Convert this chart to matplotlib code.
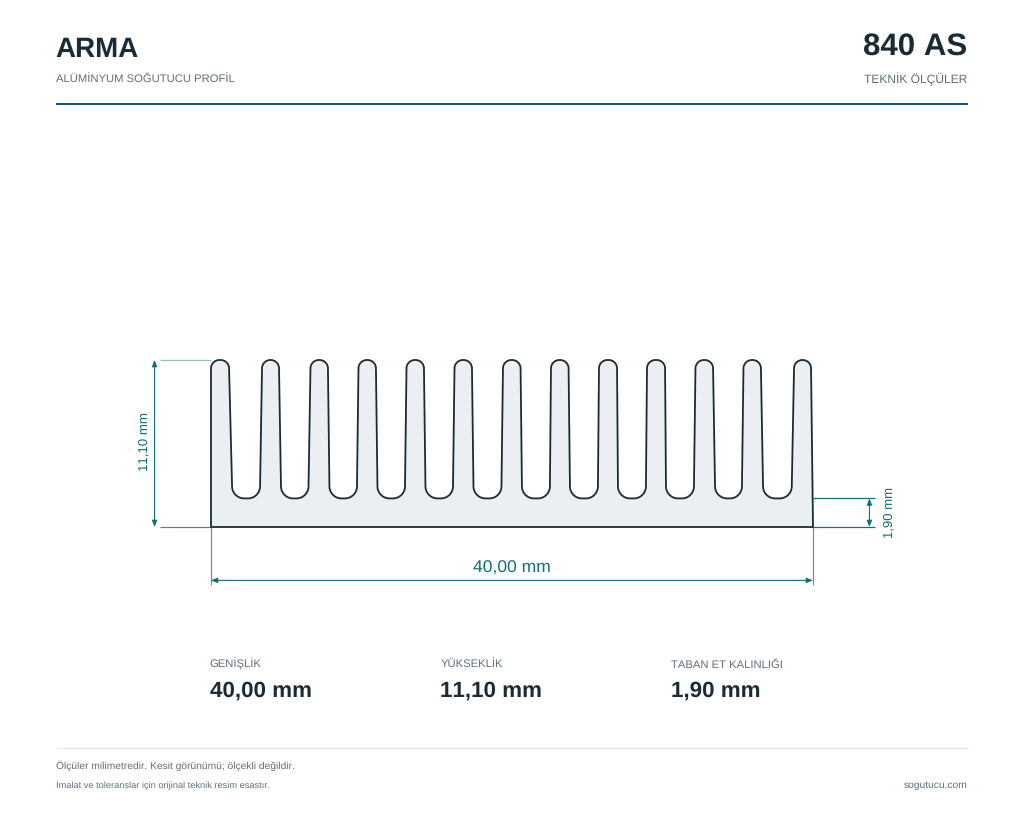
import matplotlib
matplotlib.use("Agg")
import matplotlib.pyplot as plt
from matplotlib.path import Path
from matplotlib.patches import PathPatch

plt.rcParams['font.family'] = ['Liberation Sans', 'DejaVu Sans']
plt.rcParams['text.hinting'] = 'no_hinting'
plt.rcParams['text.hinting_factor'] = 8
plt.rcParams['text.kerning_factor'] = 6

DARK = "#1a2b36"
GREY = "#5f6f7a"
TEAL = "#0f6e78"
RULE = "#0f5f6e"
FILL = "#eceff2"

width_mm = 40.0
height_mm = 11.1
base_mm = 1.9

# fin edges in mm
fin_top_left = [0.00, 3.39, 6.61, 9.80, 12.99, 16.18, 19.40, 22.59, 25.78, 28.97, 32.19, 35.38, 38.74]
fin_top_right = [1.20, 4.52, 7.77, 10.96, 14.15, 17.34, 20.57, 23.76, 26.98, 30.17, 33.36, 36.54, 39.87]
fin_root_left = [0.00, 3.26, 6.48, 9.70, 12.89, 16.08, 19.30, 22.52, 25.71, 28.90, 32.09, 35.28, 38.59]
fin_root_right = [1.40, 4.65, 7.87, 11.06, 14.25, 17.44, 20.66, 23.85, 27.04, 30.23, 33.49, 36.68, 40.00]

stat_labels = ["GENİŞLİK", "YÜKSEKLİK", "TABAN ET KALINLIĞI"]
stat_values = ["40,00 mm", "11,10 mm", "1,90 mm"]


def px(size):
    return size * 0.72


def corner(verts, codes, start, ctrl, end):
    # quarter circle from start to end, ctrl is the sharp corner
    k = 0.55
    c1 = (start[0] + k * (ctrl[0] - start[0]), start[1] + k * (ctrl[1] - start[1]))
    c2 = (end[0] + k * (ctrl[0] - end[0]), end[1] + k * (ctrl[1] - end[1]))
    verts += [c1, c2, end]
    codes += [Path.CURVE4, Path.CURVE4, Path.CURVE4]


def profile_path():
    r_top = 0.55
    r_foot = 0.8
    verts = [(0, 0), (0, height_mm - r_top)]
    codes = [Path.MOVETO, Path.LINETO]
    n = len(fin_top_left)
    for i in range(n):
        tl, tr = fin_top_left[i], fin_top_right[i]
        rl, rr = fin_root_left[i], fin_root_right[i]
        if i > 0:
            verts += [(tl, height_mm - r_top)]
            codes += [Path.LINETO]
        corner(verts, codes, (tl, height_mm - r_top), (tl, height_mm), (tl + r_top, height_mm))
        verts += [(tr - r_top, height_mm)]
        codes += [Path.LINETO]
        corner(verts, codes, (tr - r_top, height_mm), (tr, height_mm), (tr, height_mm - r_top))
        if i < n - 1:
            next_rl = fin_root_left[i + 1]
            verts += [(rr, base_mm + r_foot)]
            codes += [Path.LINETO]
            corner(verts, codes, (rr, base_mm + r_foot), (rr, base_mm), (rr + r_foot, base_mm))
            verts += [(next_rl - r_foot, base_mm)]
            codes += [Path.LINETO]
            corner(verts, codes, (next_rl - r_foot, base_mm), (next_rl, base_mm), (next_rl, base_mm + r_foot))
    verts += [(width_mm, 0), (0, 0)]
    codes += [Path.LINETO, Path.CLOSEPOLY]
    return Path(verts, codes)


fig = plt.figure(figsize=(10.24, 8.19), dpi=100, facecolor="white")

# page axes in pixels, top-left origin
page = fig.add_axes([0, 0, 1, 1])
page.set_xlim(0, 1024)
page.set_ylim(819, 0)
page.axis("off")

page.text(55.5, 57, "ARMA", fontsize=px(27.8), fontweight="bold", color=DARK)
page.text(56, 83, "ALÜMİNYUM SOĞUTUCU PROFİL", fontsize=px(11.3), color=GREY)
page.text(967.5, 55, "840 AS", fontsize=px(31.3), fontweight="bold", color=DARK, ha="right")
page.text(967.5, 83, "TEKNİK ÖLÇÜLER", fontsize=px(12), color=GREY, ha="right")
page.plot([56, 968], [104, 104], color=RULE, lw=px(2), solid_capstyle="butt")

for x, lab, val in zip([209.5, 440.5, 671], stat_labels, stat_values):
    page.text(x, 667.5, lab, fontsize=px(11.3), color=GREY)
    page.text(x, 697, val, fontsize=px(22.4), fontweight="bold", color=DARK)

page.plot([56, 968], [747.5, 747.5], color="#dfe4e8", lw=px(1), solid_capstyle="butt")
page.text(56, 769, "Ölçüler milimetredir. Kesit görünümü; ölçekli değildir.", fontsize=px(10.3), color=GREY)
page.text(56, 788, "İmalat ve toleranslar için orijinal teknik resim esastır.", fontsize=px(9.3), color=GREY)
page.text(967.5, 788, "sogutucu.com", fontsize=px(10.2), color=GREY, ha="right")

# drawing axes in mm
ax = fig.add_axes([211 / 1024, (819 - 527) / 819, 602 / 1024, 167 / 819])
ax.set_xlim(0, width_mm)
ax.set_ylim(0, height_mm)
ax.axis("off")

ax.add_patch(PathPatch(profile_path(), facecolor=FILL, edgecolor=DARK, lw=px(1.8),
                       joinstyle="round", clip_on=False, zorder=3))


def ext(xs, ys, alpha=1.0):
    ax.plot(xs, ys, color=TEAL, lw=px(1.2), alpha=alpha, clip_on=False,
            solid_capstyle="butt", zorder=2)


def dim(p0, p1):
    ax.annotate("", xy=p1, xytext=p0, annotation_clip=False, zorder=2,
                arrowprops=dict(arrowstyle="<|-|>,head_length=0.38,head_width=0.15", color=TEAL,
                                lw=px(1.1), shrinkA=0, shrinkB=0, mutation_scale=10))


# height
ext([-3.39, 0], [height_mm, height_mm], alpha=0.45)
ext([-3.39, 0], [0, 0], alpha=0.8)
dim((-3.75, 0), (-3.75, height_mm))
ax.text(-4.48, height_mm / 2 + 0.1, "11,10 mm", rotation=90, ha="center", va="center",
        fontsize=px(13.3), color=TEAL, clip_on=False)

# width
ext([0, 0], [0, -3.85], alpha=0.7)
ext([width_mm, width_mm], [0, -3.85], alpha=0.7)
dim((0, -3.55), (width_mm, -3.55))
ax.text(width_mm / 2, -2.73, "40,00 mm", ha="center", va="center", fontsize=px(17.5), color=TEAL, clip_on=False)

# base thickness
ext([width_mm, 44.1], [base_mm, base_mm])
ext([width_mm, 44.1], [0, 0])
dim((43.75, 0), (43.75, base_mm))
ax.text(45.05, 0.95, "1,90 mm", rotation=90, ha="center", va="center", fontsize=px(13.1), color=TEAL, clip_on=False)

fig.savefig("out.png", dpi=100)
